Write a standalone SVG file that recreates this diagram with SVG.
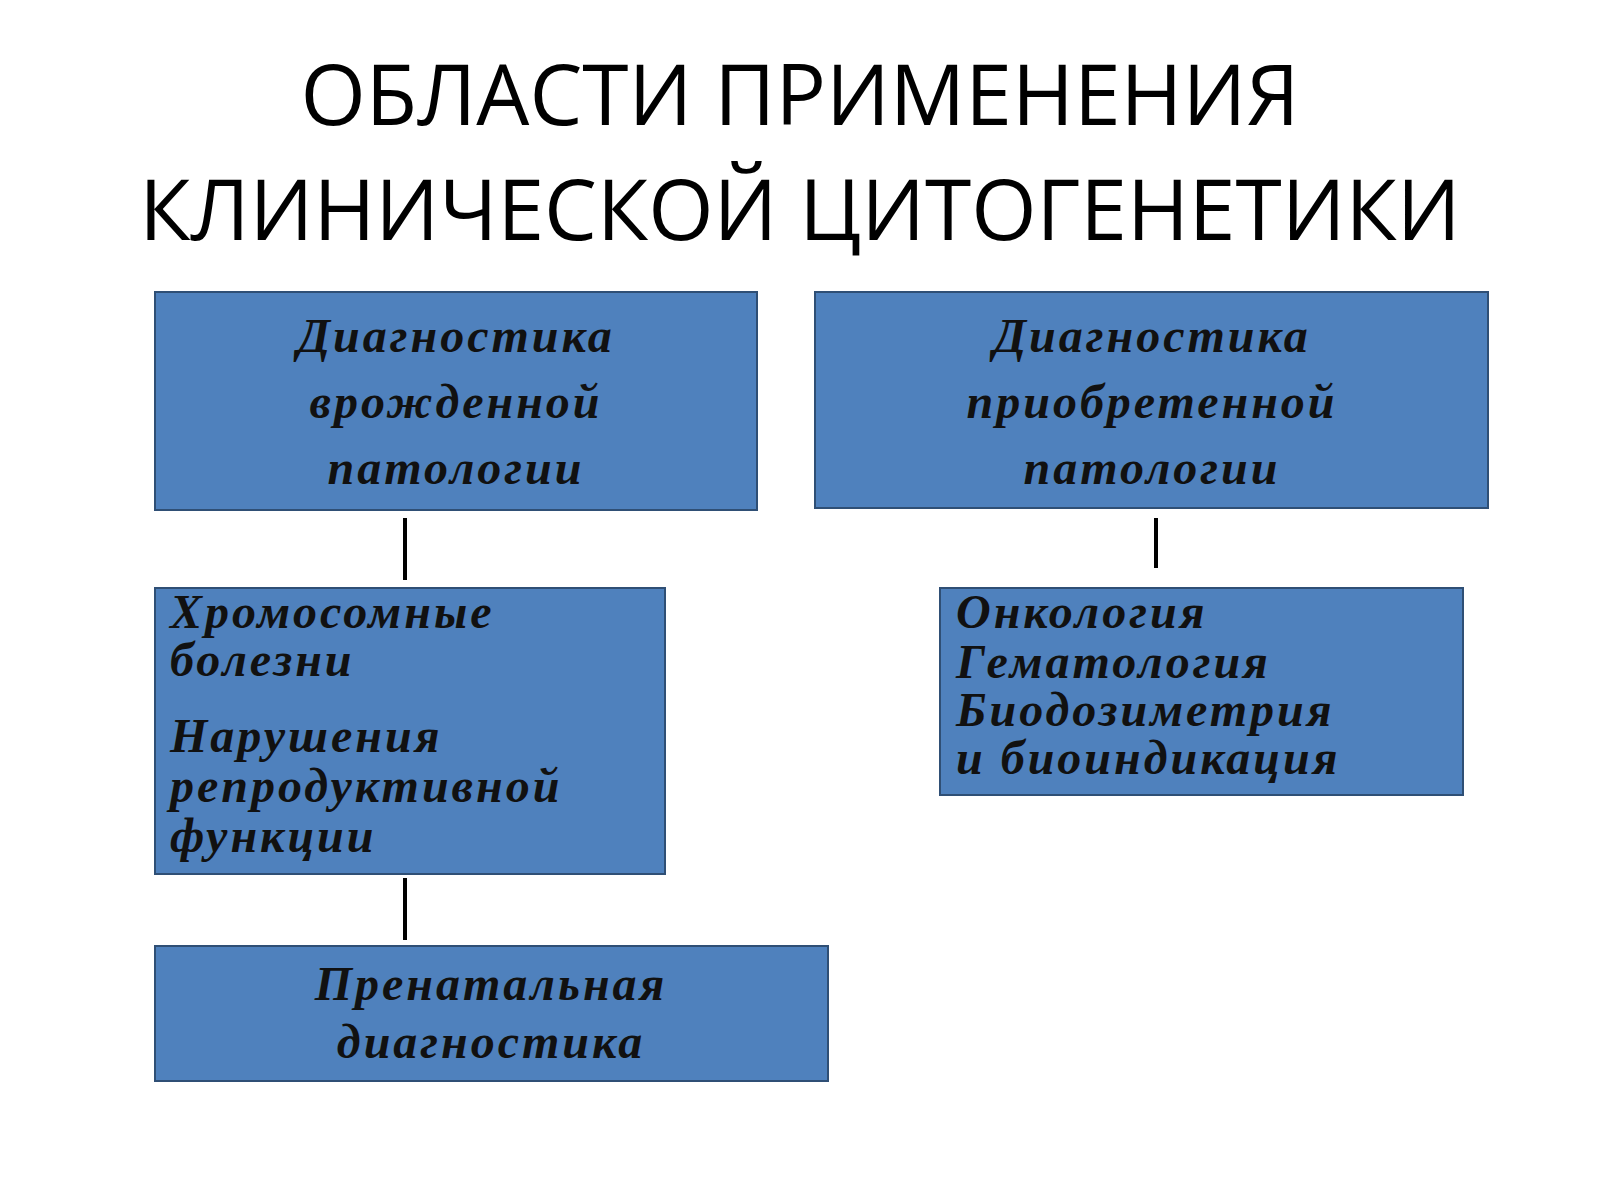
<svg xmlns="http://www.w3.org/2000/svg" width="1600" height="1200" viewBox="0 0 1600 1200">
<style>
.box{fill:#4f81bd;stroke:#2f4f75;stroke-width:2}
.t{font-family:"Liberation Serif","DejaVu Serif",serif;font-weight:bold;font-style:italic;font-size:48px;letter-spacing:3px;fill:#111}
.h{font-family:"Open Sans","Liberation Sans",sans-serif;font-size:84px;fill:#000;text-anchor:middle}
.c{stroke:#000;stroke-width:4}
</style>
<rect width="1600" height="1200" fill="#fff"/>
<text class="h" x="800" y="125">ОБЛАСТИ ПРИМЕНЕНИЯ</text>
<text class="h" x="800" y="240">КЛИНИЧЕСКОЙ ЦИТОГЕНЕТИКИ</text>
<g id="connectors">
<line class="c" x1="405" y1="518" x2="405" y2="580"/>
<line class="c" x1="1156" y1="518" x2="1156" y2="568"/>
<line class="c" x1="405" y1="878" x2="405" y2="940"/>
</g>
<g id="n1"><rect class="box" x="155" y="292" width="602" height="218"/>
<text class="t" text-anchor="middle"><tspan x="456" y="352">Диагностика</tspan><tspan x="456" y="418">врожденной</tspan><tspan x="456" y="484">патологии</tspan></text></g>
<g id="n2"><rect class="box" x="815" y="292" width="673" height="216"/>
<text class="t" text-anchor="middle"><tspan x="1152" y="352">Диагностика</tspan><tspan x="1152" y="418">приобретенной</tspan><tspan x="1152" y="484">патологии</tspan></text></g>
<g id="n3"><rect class="box" x="155" y="588" width="510" height="286"/>
<text class="t"><tspan x="170" y="628">Хромосомные</tspan><tspan x="170" y="676">болезни</tspan><tspan x="170" y="752">Нарушения</tspan><tspan x="170" y="802">репродуктивной</tspan><tspan x="170" y="852">функции</tspan></text></g>
<g id="n4"><rect class="box" x="940" y="588" width="523" height="207"/>
<text class="t"><tspan x="956" y="628">Онкология</tspan><tspan x="956" y="678">Гематология</tspan><tspan x="956" y="726">Биодозиметрия</tspan><tspan x="956" y="774">и биоиндикация</tspan></text></g>
<g id="n5"><rect class="box" x="155" y="946" width="673" height="135"/>
<text class="t" text-anchor="middle"><tspan x="491" y="1000">Пренатальная</tspan><tspan x="491" y="1058">диагностика</tspan></text></g>
</svg>
